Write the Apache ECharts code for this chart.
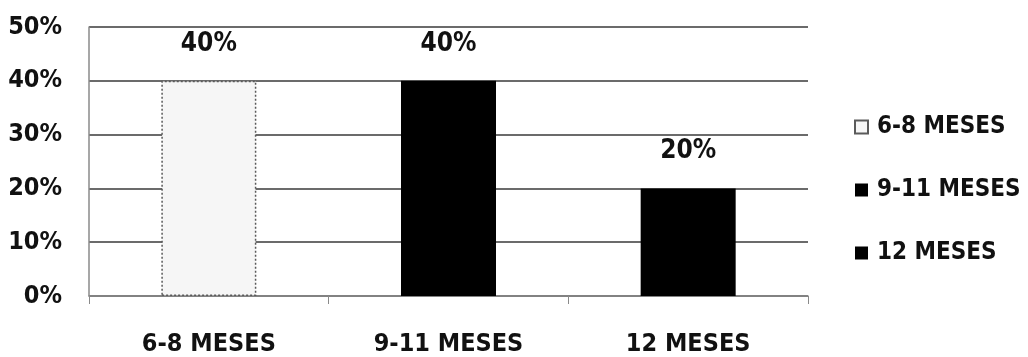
<!DOCTYPE html>
<html>
<head>
<meta charset="utf-8">
<script src="https://cdn.jsdelivr.net/npm/echarts@6/dist/echarts.min.js"></script>
<style>
  html, body { margin: 0; padding: 0; background: #fff; }
  #chart { width: 1028px; height: 357px; }
</style>
</head>
<body>
<div id="chart"></div>
<script>
// Age groups and share of children in each group (percent)
const categories = ['6-8 MESES', '9-11 MESES', '12 MESES'];
const values = [40, 40, 20];
const yTicks = [0, 10, 20, 30, 40, 50];

const FONT = "'DejaVu Sans Condensed', 'Liberation Sans Narrow', 'Noto Sans', sans-serif";

const barStyles = [
  { color: '#f6f6f6', borderColor: '#5a5a5a', borderWidth: 1.5, borderType: [2, 2] },
  { color: '#000000' },
  { color: '#000000' }
];

// One series per age group so each gets its own legend entry
const series = categories.map((name, i) => ({
  name: name,
  type: 'bar',
  stack: 'total',
  barWidth: 95,
  data: categories.map((_, j) => (j === i ? values[i] : '-')),
  itemStyle: barStyles[i],
  label: {
    show: true,
    position: 'top',
    distance: 24,
    formatter: '{c}%',
    color: '#111',
    fontFamily: FONT,
    fontWeight: 'bold',
    fontSize: 26
  }
}));

const chart = echarts.init(document.getElementById('chart'), null, { renderer: 'canvas' });
chart.setOption({
  animation: false,
  backgroundColor: '#fff',
  grid: { left: 89, right: 220, top: 27, bottom: 60, containLabel: false },
  legend: {
    orient: 'vertical',
    left: 849,
    top: 110,
    icon: 'rect',
    itemWidth: 13,
    itemHeight: 13,
    itemGap: 39,
    data: categories,
    textStyle: {
      color: '#111',
      fontFamily: FONT,
      fontWeight: 'bold',
      fontSize: 24,
      padding: [0, 0, 0, 4]
    }
  },
  xAxis: {
    type: 'category',
    data: categories,
    axisLine: { show: true, lineStyle: { color: '#8a8a8a', width: 1.5 } },
    axisTick: { show: true, length: 8, lineStyle: { color: '#8a8a8a' } },
    axisLabel: {
      margin: 36,
      color: '#111',
      fontFamily: FONT,
      fontWeight: 'bold',
      fontSize: 25
    }
  },
  yAxis: {
    type: 'value',
    min: yTicks[0],
    max: yTicks[yTicks.length - 1],
    interval: 10,
    axisLine: { show: true, lineStyle: { color: '#8a8a8a', width: 1.5 } },
    axisTick: { show: false },
    splitLine: { show: true, lineStyle: { color: '#3a3a3a', width: 1.5 } },
    axisLabel: {
      margin: 27,
      color: '#111',
      fontFamily: FONT,
      fontWeight: 'bold',
      fontSize: 25,
      formatter: '{value}%'
    }
  },
  series: series
});
</script>
</body>
</html>
